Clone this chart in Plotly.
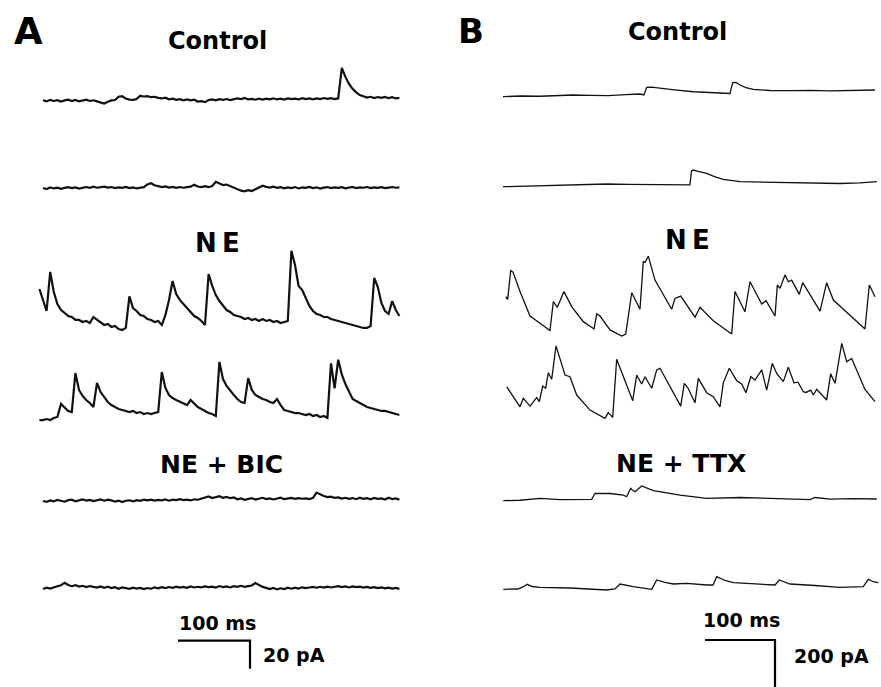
import plotly.graph_objects as go

W, H = 881, 687

# ---------------- Panel A (pA, sampled every 5 ms) ----------------
A_DT = 5.0
A_START = [0, 0, -5, -5, 0, 0]

A1 = [0.3, -0.5, 0.6, -0.2, 0.4, -0.6, 0.2, 0.8, -0.3, 0.5, -0.4, 0.1, 0.7, -0.2, 0.3, -0.5,
      -1.5, -2.0, -0.8, 0.2, 0.5, 2.8, 3.2, 1.5, 0.8, 0.6, 1.2, 3.5, 3.0, 3.2, 2.5, 2.8, 2.0, 1.6,
      2.1, 1.0, 1.4, 0.6, 1.1, 0.3, 0.9, 0.2, 0.7,
      -0.6, -0.3, -1.0, 0.4, 0.9, 0.3, 1.1, 0.6, 1.2, 0.5, 1.0, 1.6, 1.2, 2.0, 0.9, 1.3, 0.7, 1.4,
      0.8, 1.5, 1.0, 1.7, 0.9, 1.4, 0.8, 1.6, 1.1, 1.5, 0.9, 1.8, 1.2, 1.6, 1.0, 1.7, 1.1, 1.9,
      1.3, 1.8, 1.2, 1.6,
      23.5, 17.0, 12.0, 8.5, 6.0, 4.0, 3.2, 2.2, 2.8, 1.9, 2.6, 2.0, 2.7, 1.8, 2.5, 1.6, 2.0]

A2 = [0.2, -0.5, 0.6, -0.1, 0.4, -0.4, 0.3, 0.8, 0.1, 0.6, -0.2, 0.5, 0.9, 0.3, 1.1, 0.4, 0.8,
      1.2, 0.5, 0.9, 0.2, 0.7, 0.3, 1.0, 0.1, 0.6, -0.1, 0.4, 0.8,
      2.8, 3.6, 2.2, 1.3, 0.8, 1.4, 0.5, 1.0, 0.3, 0.9, 0.4, 0.8, 1.2, 2.6, 1.3, 0.9, 1.5, 0.8,
      1.6, 4.6, 3.2, 2.3, 2.7, 1.6, 1.0, -0.4, -1.7, -2.2, -1.4, -2.0, -0.8, 0.4, 1.8, 1.0, 0.5,
      1.1, 0.3, 0.8, 0.0, 0.7, 0.2, 0.9, -0.1, 0.6, 0.3, 1.0, 0.2, 0.7, -0.2, 0.5, 0.9, 0.1, 0.6,
      0.3, 0.8, 0.0, 0.5, 1.0, 0.2, 0.7, 0.4, 0.9, 0.1, 0.6, 0.3, 0.8, 0.2, 0.5, 0.9, 0.4, 0.6]

A3 = [25.7,
      18.6, 10.0, 37.9, 23.6, 15.0, 10.7, 8.6, 6.4, 5.7, 3.6,
      3.6, 2.1, 2.9, 1.4, 5.7, 3.6, 2.1, 0.0, 0.7, -1.4,
      -0.7, -2.9, -3.6, -2.1, 20.5, 12.1, 10.0, 7.1, 6.4, 4.3,
      3.6, 2.1, 2.9, 0.0, 7.1, 17.9, 31.4, 22.1, 17.9, 15.0,
      12.1, 9.3, 6.4, 5.0, 2.9, 0.0, 36.4, 27.9, 21.4, 17.1,
      13.6, 10.7, 9.3, 7.1, 6.4, 5.7, 4.3, 5.0, 3.6, 4.3,
      2.9, 4.3, 2.9, 3.6, 2.1, 2.9, 1.4, 2.1, 2.9, 53.0,
      42.9, 27.9, 25.0, 19.3, 13.6, 10.0, 7.9, 7.1, 5.7, 5.7,
      4.3, 3.6, 2.9, 2.1, 1.4, 0.7, 0.0, -0.7, -1.4, -2.1,
      -2.1, -0.7, 33.6, 27.1, 15.7, 10.0, 7.9, 17.1, 10.7, 6.4]

A4 = [-3.6,
      -3.6, -2.9, -3.6, -2.1, -1.4, 7.9, 5.0, 2.9, 2.1, 30.0,
      17.9, 13.6, 10.7, 8.6, 5.7, 22.9, 16.4, 12.9, 9.3, 7.1,
      5.7, 4.3, 3.6, 2.9, 2.1, 2.9, 1.4, 2.1, 0.7, 1.4,
      0.7, 1.4, 2.1, 30.7, 19.3, 14.3, 12.1, 10.7, 9.3, 7.9,
      7.1, 10.7, 7.9, 5.7, 4.3, 2.9, 1.4, 0.7, -0.7, 37.9,
      25.7, 20.7, 17.1, 14.3, 11.4, 9.3, 8.6, 26.4, 17.9, 14.3,
      12.9, 11.4, 10.7, 9.3, 8.6, 11.4, 7.1, 3.6, 2.9, 2.1,
      1.4, 1.4, 0.7, 0.0, 0.7, -0.7, 0.0, -1.4, -0.7, -2.1,
      36.9, 19.0, 39.5, 29.0, 22.1, 16.4, 11.4, 10.0, 8.6, 7.1,
      5.7, 5.0, 4.3, 3.6, 2.9, 2.9, 2.1, 1.4, 0.7, 0.0]

A5 = [0.0, -0.6, 0.4, -0.3, 0.7, 0.1, -0.5, 0.6, 0.9, -0.2, 0.5, 1.2, 0.3, 0.8, -0.1, 0.6, 1.1,
      0.2, 0.9, 0.4, -0.4, 0.3, -0.7, 0.2, 0.5, -0.3,
      0.6, 0.1, 0.9, 0.4, 1.0, 0.3, 0.8, 0.5, 1.1, 0.2, 0.9, 0.6, 1.3, 0.7, 1.0, 0.4, 1.2, 0.9,
      1.8, 2.6, 3.2, 2.1, 2.8, 3.4, 2.3, 2.9, 2.0, 2.5,
      1.2, 1.8, 0.9, 1.5, 2.1, 1.0, 1.6, 2.3, 1.4, 1.9, 1.1, 1.7, 2.4, 1.3, 1.8, 2.2, 1.5, 2.0,
      1.6, 1.9, 1.4,
      2.2, 6.0, 4.6, 3.6, 2.8, 3.1, 2.2,
      2.6, 1.7, 2.3, 1.5, 2.1, 1.3, 2.4, 1.6, 2.0, 1.2, 2.2, 1.5, 1.9, 1.1, 2.3, 1.4, 1.8, 1.0]

A6 = [-0.5, 0.4, -0.2, 0.9, 1.5, 2.2, 4.0, 2.4, 1.5, 2.3, 1.2, 1.8, 0.9, 1.6, 1.0, 0.5, 1.3,
      0.4, 1.1, 0.2, 0.8, -0.3, 0.6, 0.1, -0.4, 0.5, -0.2, 0.3, -0.6, 0.2, -0.3, 0.6, 0.0, 0.8,
      0.2, 0.9, 0.3, 1.2, 0.5, 1.0, 0.4, 1.3, 0.6, 1.1, 0.7, 1.4, 0.8, 1.2, 0.5, 1.6, 0.9, 1.3,
      0.6, 1.5, 1.0, 1.8, 1.1, 1.6, 2.0, 3.8, 2.2, 1.0, 0.3, -0.5, 0.2, -0.8, 0.0, -0.6, 0.4,
      -0.3, 0.5, -0.2, 0.7, 0.1, 0.6, 1.0, 0.4, 1.1, 0.5, 1.2, 0.6, 1.0, 1.5, 0.8, 1.3, 0.6,
      1.4, 0.9, 1.2, 0.5, 1.0, 0.3, 0.8, 0.2, 0.7, 0.0, 0.5, -0.2, 0.3, -0.4]

A_TRACES = [A1, A2, A3, A4, A5, A6]

# ---------------- Panel B (ms, pA) ----------------
B1_T = [0, 25, 52.9, 75, 100, 125, 150, 175, 195.7, 201.4, 205.3, 212, 224.3, 245, 271.9, 295,
        319.6, 324.3, 328.1, 332.9, 338.6, 347, 357.6, 381.4, 410, 440, 467, 500, 531.4]
B1_V = [-3, 0, -1, 2, 4.3, 3, 2, 6, 8.5, 4.3, 37, 38, 33, 26, 18, 15,
        11.5, 10.6, 56.6, 57.4, 46.8, 36, 28.5, 23.4, 22.6, 24, 22, 23, 25.5]

B2_T = [0, 25, 52.9, 75, 100, 148, 180, 210, 240, 264.7, 267, 269.3, 271.9, 277.1, 291, 302,
        314.7, 338.6, 380, 433.9, 460, 481.4, 510, 533.9]
B2_V = [-3, -1, 0, 2, 4, 8.5, 7, 6.4, 5.5, 4.3, 5, 63.8, 68, 63.8, 54, 40,
        28.5, 18.3, 16, 14, 12, 10.6, 13, 18.3]

B3_T = [3.9, 6.7, 11, 14.3, 24.3, 38.6, 52.9, 67.1, 71.9, 77.6, 87.1, 98.1, 114.7, 130, 133.9,
        138.6, 152.9, 169.6, 175.3, 183.9, 195.7, 200.4, 202.9, 207.6, 217.1, 241, 245.7, 253.9,
        274.3, 281.4, 300.4, 326.7, 331.4, 345.7, 352.9, 369.6, 375.7, 388.6, 391.9, 395.7,
        402.9, 407.6, 412.4, 423.3, 428.1, 452.9, 462.4, 471.9, 517.1, 523.3, 531.4]
B3_V = [167, 156, 278, 272, 189, 85, 54, 23, 146, 122, 189, 125, 61, 30, 94,
        85, 26, 0, 8.5, 184, 114, 316, 313, 340, 238, 114, 160, 170,
        80, 122, 65, 8.5, 189, 103, 231, 136, 150, 85, 217, 203,
        260, 231, 238, 177, 227, 106, 227, 153, 30, 217, 167]

B4_T = [5.3, 24.3, 29, 38.6, 48.1, 51.9, 56.7, 61, 64.7, 69.6, 75.7, 88.6, 95.7, 105.3, 124.3,
        145.7, 150.4, 156.7, 162.4, 171.9, 185.3, 191, 198.1, 202.9, 212.4, 219.6, 224.3, 253.9,
        259, 264.3, 274.3, 279, 291, 300.4, 310, 314.7, 323.3, 333.9, 341, 347.1, 353.9, 360,
        369.6, 376.7, 384.7, 391, 400.4, 407.6, 415.7, 421.4, 429, 432.9, 439.6, 443.3, 448.1,
        462.4, 468.1, 474.3, 483.9, 491, 498.1, 517.1, 531.4]
B4_V = [134, 49, 85, 52, 88, 71, 137, 128, 194, 166, 308, 184, 177, 99, 35,
        0, 24, 4, 251, 177, 75, 184, 146, 177, 128, 206, 213, 52,
        149, 129, 66, 170, 109, 92, 49, 151, 213, 160, 146, 109, 177, 163,
        206, 120, 234, 191, 156, 217, 151, 154, 113, 110, 120, 99, 123,
        78, 189, 149, 319, 241, 255, 123, 71]

B5_T = [0.4, 24.3, 52.9, 81.4, 126.7, 131.4, 152.9, 171.9, 176.7, 182.4, 185.7, 188.6, 198.1,
        214.7, 252.9, 291, 338.6, 386.1, 438.6, 445.7, 467.1, 500, 533.9]
B5_V = [-3, -1, 7, 2, 3, 28.5, 27.7, 21, 14, 50, 40, 35, 60,
        40, 21, 7, 10.6, 7, 2, 10.6, 3.4, 6, 4.3]

B6_T = [0.4, 21.4, 29, 34.7, 41.4, 52.9, 95.7, 148.1, 160, 167.1, 186.1, 212.4, 219.6, 231.4,
        243.3, 262.4, 291, 300, 305.3, 317.1, 329, 362.4, 388.6, 394.7, 410, 445.7, 481.4,
        514.7, 521.9, 529, 536.1]
B6_V = [-1.3, 0, 9.8, 20, 10.6, 7.2, 4.3, -4.3, 0, 21.3, 9.8, -1.3, 38.3, 27.7,
        21.3, 24.3, 17, 17, 52.3, 36.2, 26.8, 21.3, 17, 38.3, 21.3, 15, 7.2,
        9.8, 41.3, 31, 26.8]

B_TRACES = [(B1_T, B1_V), (B2_T, B2_V), (B3_T, B3_V), (B4_T, B4_V), (B5_T, B5_V), (B6_T, B6_V)]

# scale bars
SCALE_A_MS, SCALE_A_PA = 100, 20
SCALE_B_MS, SCALE_B_PA = 100, 200

# ---------------- layout geometry (pixels) ----------------
A_PX_PER_MS, A_PX_PER_PA, A_X0 = 0.72, 1.4, 43.0
B_PX_PER_MS, B_PX_PER_PA, B_X0 = 0.70, 0.235, 503.0
A_BASE_PX = [100.7, 188.3, 325.0, 415.0, 501.0, 588.3]
B_BASE_PX = [96.0, 186.0, 336.0, 418.3, 500.0, 589.0]

A_RANGE = [-10, 500]
B_RANGE = [-5, (W - B_X0) / B_PX_PER_MS]

fig = go.Figure()
LINE = "#111111"

for vals, start, base in zip(A_TRACES, A_START, A_BASE_PX):
    off = (H - base) / A_PX_PER_PA
    t = [start + A_DT * k for k in range(len(vals))]
    fig.add_trace(go.Scatter(x=t, y=[v + off for v in vals], mode="lines",
                             line=dict(color=LINE, width=2.2), xaxis="x", yaxis="y",
                             hoverinfo="skip"))

for (t, vals), base in zip(B_TRACES, B_BASE_PX):
    off = (H - base) / B_PX_PER_PA
    fig.add_trace(go.Scatter(x=t, y=[v + off for v in vals], mode="lines",
                             line=dict(color=LINE, width=1.3), xaxis="x2", yaxis="y2",
                             hoverinfo="skip"))

# scale bar A
sa_t0 = (178 - A_X0) / A_PX_PER_MS
sa_y0 = (H - 640.7) / A_PX_PER_PA
fig.add_trace(go.Scatter(x=[sa_t0, sa_t0 + SCALE_A_MS, sa_t0 + SCALE_A_MS],
                         y=[sa_y0, sa_y0, sa_y0 - SCALE_A_PA], mode="lines",
                         line=dict(color="black", width=2.2), xaxis="x", yaxis="y",
                         hoverinfo="skip"))
# scale bar B
sb_t0 = (705 - B_X0) / B_PX_PER_MS
sb_y0 = (H - 640.0) / B_PX_PER_PA
fig.add_trace(go.Scatter(x=[sb_t0, sb_t0 + SCALE_B_MS, sb_t0 + SCALE_B_MS],
                         y=[sb_y0, sb_y0, sb_y0 - SCALE_B_PA], mode="lines",
                         line=dict(color="black", width=2.2), xaxis="x2", yaxis="y2",
                         hoverinfo="skip"))


def px_x(p):
    return p / W


def px_y(p):
    return 1 - p / H


fig.update_layout(
    width=W, height=H, margin=dict(l=0, r=0, t=0, b=0),
    paper_bgcolor="white", plot_bgcolor="white", showlegend=False,
    xaxis=dict(domain=[px_x(A_X0 + A_PX_PER_MS * A_RANGE[0]), px_x(A_X0 + A_PX_PER_MS * A_RANGE[1])],
               range=A_RANGE, visible=False, fixedrange=True),
    yaxis=dict(domain=[0, 1], range=[0, H / A_PX_PER_PA], visible=False, fixedrange=True),
    xaxis2=dict(domain=[px_x(B_X0 + B_PX_PER_MS * B_RANGE[0]), 1.0],
                range=B_RANGE, visible=False, anchor="y2", fixedrange=True),
    yaxis2=dict(domain=[0, 1], range=[0, H / B_PX_PER_PA], visible=False, anchor="x2",
                fixedrange=True),
)

FONT = "DejaVu Sans"
labels = [
    ("A", 28, 31, 37),
    ("B", 471, 31, 34),
    ("Control", 217, 41, 24),
    ("N\u2009E", 217, 243, 26),
    ("NE + BIC", 221, 464, 25),
    ("100 ms", 217, 623, 19),
    ("20 pA", 294, 655, 19),
    ("Control", 677, 32, 24),
    ("N\u2009E", 687, 240, 26),
    ("NE + TTX", 681, 463, 25),
    ("100 ms", 741, 620, 19),
    ("200 pA", 831, 656, 19),
]
for txt, x, y, s in labels:
    fig.add_annotation(text=txt, x=px_x(x), y=px_y(y), xref="paper", yref="paper",
                       xanchor="center", yanchor="middle", showarrow=False,
                       font=dict(family=FONT, size=s, color="black", weight="bold"))

fig.write_html("out.html", config={"displayModeBar": False},
               post_script="document.body.style.margin='0';document.body.style.overflow='hidden';")
